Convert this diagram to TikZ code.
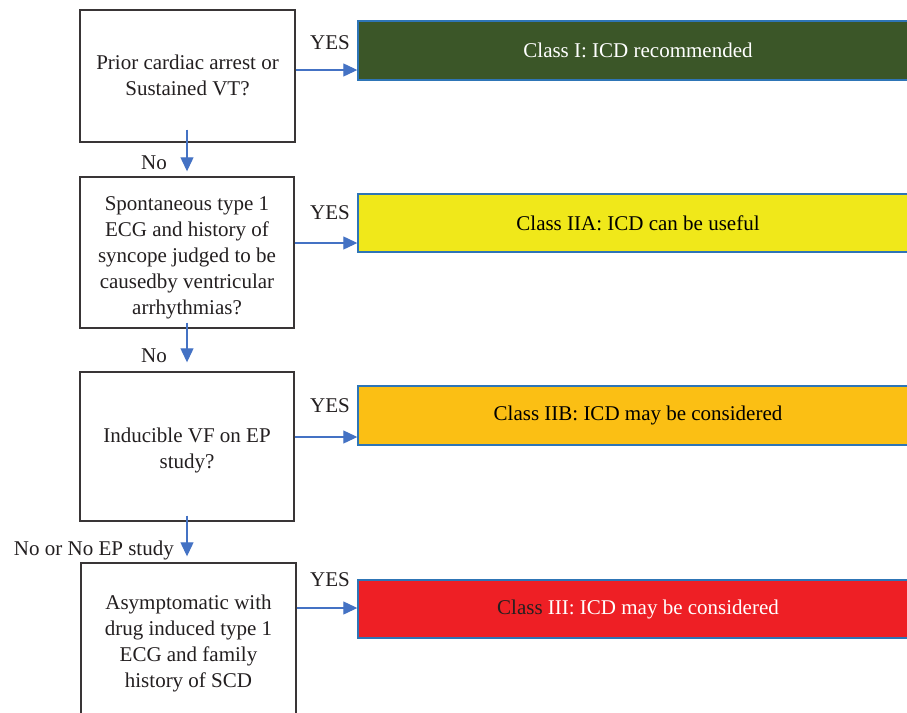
\documentclass[tikz,border=0pt]{standalone}
\usepackage{fontspec}
\setmainfont{Liberation Serif}
\usetikzlibrary{arrows.meta}
\definecolor{txt}{HTML}{231F20}
\definecolor{arrblue}{HTML}{4472C4}
\definecolor{edgeblue}{HTML}{2E75B6}
\definecolor{cgreen}{HTML}{3B5628}
\definecolor{cyellow}{HTML}{F0E81A}
\definecolor{corange}{HTML}{FBBF14}
\definecolor{cred}{HTML}{EE1F25}
\begin{document}
\begin{tikzpicture}[x=1pt,y=-1pt,
  font=\fontsize{21}{26}\selectfont,
  qbox/.style={draw=txt!90,line width=1.4pt,inner sep=0pt,minimum width=215pt},
  qtext/.style={text=txt,align=center,inner sep=0pt},
  cbox/.style={draw=edgeblue,line width=1.4pt,minimum width=560pt,minimum height=58pt,inner sep=0pt},
  arr/.style={draw=arrblue,line width=1.2pt,-{Triangle[length=14pt,width=13pt,fill=arrblue]}},
  lbl/.style={text=txt,inner sep=0pt}]
\useasboundingbox (0,0) rectangle (907,712);
\clip (0,0) rectangle (907,712);
\fill[white] (0,0) rectangle (907,712);
% question boxes
\node[qbox,minimum height=132pt] (b1) at (187.5,76) {};
\node[qbox,minimum height=151pt,minimum width=214pt] (b2) at (187,252.5) {};
\node[qbox,minimum height=149pt,minimum width=214pt] (b3) at (187,446.5) {};
\node[qbox,minimum height=152pt] (b4) at (188.5,639) {};
\node[qtext] (t1) at ([yshift=0.5pt]b1.center) {Prior cardiac arrest or\\Sustained VT?};
\node[qtext] (t2) at ([yshift=-5pt]b2.center) {Spontaneous type 1\\ECG and history of\\syncope judged to be\\causedby ventricular\\arrhythmias?};
\node[qtext] (t3) at ([yshift=-4pt]b3.center) {Inducible VF on EP\\study?};
\node[qtext] (t4) at ([yshift=-4pt]b4.center) {Asymptomatic with\\drug induced type 1\\ECG and family\\history of SCD};
% class boxes
\node[cbox,fill=cgreen,text=white,minimum height=59pt] (cA) at (638,50.5) {Class I: ICD recommended};
\node[cbox,fill=cyellow,text=black] (cB) at (638,223) {Class IIA: ICD can be useful};
\node[cbox,fill=corange,text=black,minimum height=59pt] (cC) at (638,415.5) {Class IIB: ICD may be considered};
\node[cbox,fill=cred,text=white] (cD) at (638,609) {\textcolor{txt}{Class} III: ICD may be considered};
% yes arrows
\coordinate (s1) at ([yshift=6pt]b1.east);
\coordinate (s2) at ([yshift=9.5pt]b2.east);
\coordinate (s3) at ([yshift=9.5pt]b3.east);
\coordinate (s4) at ([yshift=31pt]b4.east);
\draw[arr] (s1) -- (s1 -| cA.west);
\draw[arr] (s2) -- (s2 -| cB.west);
\draw[arr] (s3) -- (s3 -| cC.west);
\draw[arr] (s4) -- (s4 -| cD.west);
\node[lbl] (y1) at (330,43) {YES};
\node[lbl] (y2) at (330,213) {YES};
\node[lbl] (y3) at (330,406) {YES};
\node[lbl] (y4) at (330,580) {YES};
% no arrows
\draw[arr] ([yshift=13pt]b2.north |- b1.south) -- ([yshift=5pt]b2.north);
\draw[arr] ([yshift=6pt]b2.south) -- ([yshift=9pt]b2.south |- b3.north);
\draw[arr] ([yshift=6pt]b3.south) -- ([yshift=6pt]b3.south |- b4.north);
\node[lbl,anchor=east] (n1) at (167,163) {No};
\node[lbl,anchor=east] (n2) at (167,356) {No};
\node[lbl,anchor=east] (n3) at (174,550) {No or No EP study};
\end{tikzpicture}
\end{document}
